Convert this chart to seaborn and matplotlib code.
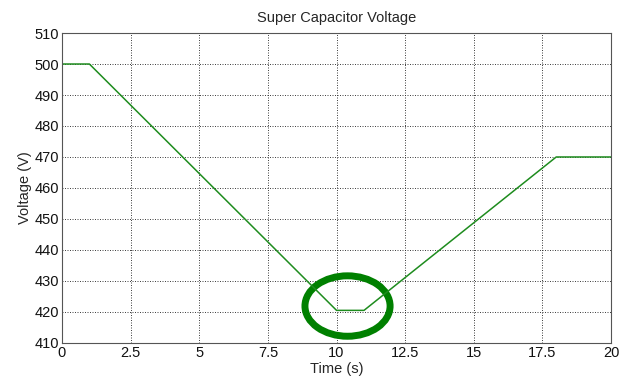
import matplotlib
matplotlib.use("Agg")
import matplotlib.pyplot as plt
from matplotlib.patches import Ellipse
import seaborn as sns
import pandas as pd

time_s = [0, 1, 10, 11, 18, 20]
voltage_v = [500, 500, 420.5, 420.5, 470, 470]
x_ticks = [0, 2.5, 5, 7.5, 10, 12.5, 15, 17.5, 20]
x_tick_labels = ["0", "2.5", "5", "7.5", "10", "12.5", "15", "17.5", "20"]
y_ticks = [410, 420, 430, 440, 450, 460, 470, 480, 490, 500, 510]

sns.set_style("white")
plt.rcParams['font.family'] = ['Liberation Sans', 'DejaVu Sans']

df = pd.DataFrame({"Time": time_s, "Voltage": voltage_v})

fig = plt.figure(figsize=(6.32, 3.84), dpi=100)
ax = fig.add_axes([0.098, 0.107, 0.869, 0.807])
sns.lineplot(data=df, x="Time", y="Voltage", ax=ax, color="#1e8c1e", linewidth=1.1, sort=False)

ax.add_patch(Ellipse((10.4, 421.9), 3.1, 19.5, fill=False, edgecolor="#008000", linewidth=5))

ax.set_xlim(0, 20)
ax.set_ylim(410, 510)
ax.set_xticks(x_ticks)
ax.set_xticklabels(x_tick_labels)
ax.set_yticks(y_ticks)
ax.grid(True, color="#222222", linestyle=(0, (1.2, 1.8)), linewidth=0.6)
for s in ax.spines.values():
    s.set_color("#555555")
    s.set_linewidth(0.8)
ax.tick_params(axis="both", labelsize=10.5, length=3, direction="in", colors="#111111", pad=2)
ax.set_xlabel("Time (s)", fontsize=10.5, labelpad=2)
ax.set_ylabel("Voltage (V)", fontsize=10.5, labelpad=2)
ax.set_title("Super Capacitor Voltage", fontsize=10.5, pad=8)

fig.savefig("out.png", dpi=100)
